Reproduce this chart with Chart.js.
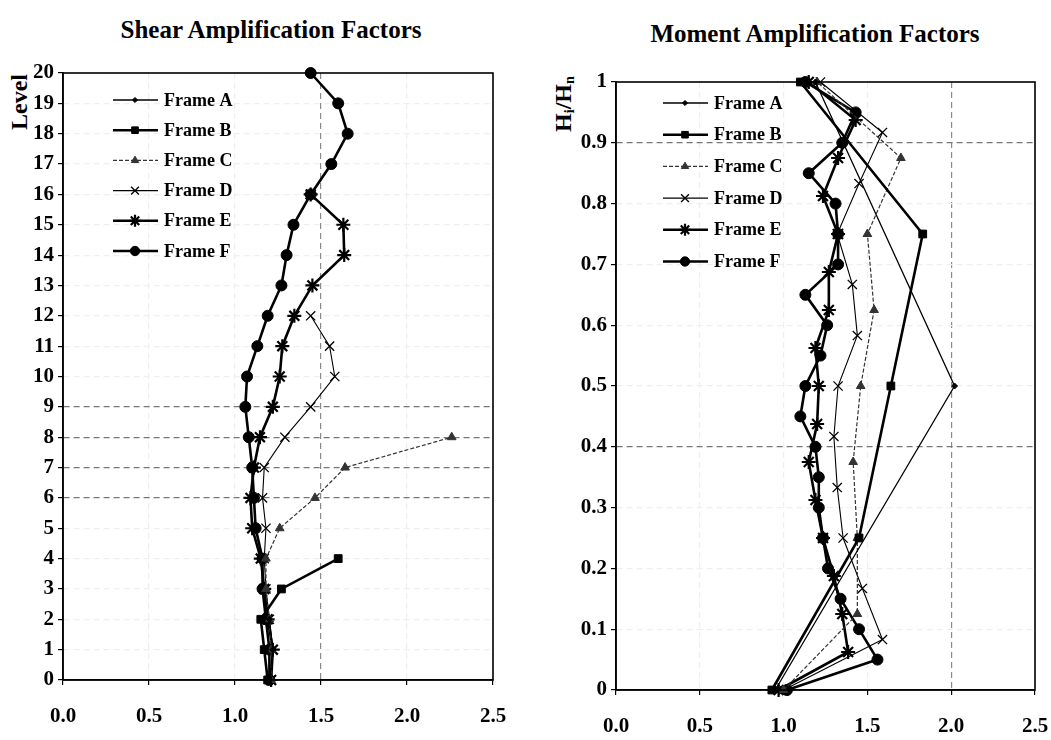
<!DOCTYPE html>
<html>
<head>
<meta charset="utf-8">
<script src="https://cdn.jsdelivr.net/npm/chart.js@4.4.0/dist/chart.umd.min.js"></script>
<style>
  body { margin: 0; background: #fff; width: 1051px; height: 740px; position: relative; overflow: hidden; }
  .box { position: absolute; top: 0; height: 740px; }
  .txt { position: absolute; font-family: "Liberation Serif", "Times New Roman", serif; font-weight: bold; color: #000; white-space: nowrap; }
  .title { font-size: 25px; transform: translateX(-50%); }
  .ylab { font-size: 24px; transform: translate(-50%, -50%) rotate(-90deg); }
  sub { font-size: 60%; vertical-align: -0.25em; }
</style>
</head>
<body>
<div class="txt title" style="left:271px; top:16px;">Shear Amplification Factors</div>
<div class="txt title" style="left:815px; top:20px;">Moment Amplification Factors</div>
<div class="txt ylab" style="left:19px; top:102px;">Level</div>
<div class="txt ylab" style="left:564px; top:104px;">H<sub>i</sub>/H<sub>n</sub></div>
<div class="box" style="left:0; width:525px;"><canvas id="shear" width="525" height="740"></canvas></div>
<div class="box" style="left:525px; width:526px;"><canvas id="moment" width="526" height="740"></canvas></div>
<script>
// series names
var frames = ['Frame A', 'Frame B', 'Frame C', 'Frame D', 'Frame E', 'Frame F'];

// shear: value per level (level = position in levels)
var levels = [0, 1, 2, 3, 4, 5, 6, 7, 8, 9, 10, 11, 12, 13, 14, 15, 16, 17, 18, 19, 20];
var shearA = [1.20, 1.22, 1.20];
var shearB = [1.19, 1.17, 1.15, 1.27, 1.60];
var shearC = [1.21, 1.21, 1.20, 1.18, 1.18, 1.26, 1.465, 1.64, 2.26];
var shearD = [1.21, 1.22, 1.20, 1.18, 1.17, 1.18, 1.16, 1.17, 1.29, 1.44, 1.58, 1.55, 1.44];
var shearE = [1.21, 1.22, 1.19, 1.17, 1.15, 1.10, 1.09, 1.11, 1.145, 1.22, 1.26, 1.275, 1.345, 1.45, 1.635, 1.63, 1.44];
var shearF = [1.20, 1.20, 1.18, 1.16, 1.16, 1.12, 1.11, 1.10, 1.08, 1.06, 1.07, 1.13, 1.19, 1.27, 1.30, 1.34, 1.44, 1.56, 1.655, 1.60, 1.44];

// moment: Hi/Hn heights and factors
var ratioA = [0, 0.5, 1];
var ratioB = [0, 0.25, 0.5, 0.75, 1];
var ratioC = [0, 0.125, 0.25, 0.375, 0.5, 0.625, 0.75, 0.875, 1];
var ratioD = [0, 0.083, 0.167, 0.25, 0.333, 0.417, 0.5, 0.583, 0.667, 0.75, 0.833, 0.917, 1];
var ratioE = [0, 0.0625, 0.125, 0.1875, 0.25, 0.3125, 0.375, 0.4375, 0.5, 0.5625, 0.625, 0.6875, 0.75, 0.8125, 0.875, 0.9375, 1];
var ratioF = [0, 0.05, 0.1, 0.15, 0.2, 0.25, 0.3, 0.35, 0.4, 0.45, 0.5, 0.55, 0.6, 0.65, 0.7, 0.75, 0.8, 0.85, 0.9, 0.95, 1];
var momA = [0.95, 2.02, 1.19];
var momB = [0.93, 1.45, 1.64, 1.83, 1.10];
var momC = [1.00, 1.44, 1.44, 1.415, 1.46, 1.54, 1.50, 1.70, 1.20];
var momD = [1.00, 1.59, 1.47, 1.355, 1.32, 1.30, 1.325, 1.44, 1.41, 1.32, 1.45, 1.59, 1.22];
var momE = [0.97, 1.385, 1.35, 1.30, 1.235, 1.19, 1.15, 1.20, 1.21, 1.19, 1.27, 1.27, 1.325, 1.235, 1.325, 1.43, 1.15];
var momF = [1.02, 1.56, 1.45, 1.34, 1.265, 1.235, 1.21, 1.21, 1.19, 1.10, 1.13, 1.22, 1.26, 1.13, 1.325, 1.325, 1.31, 1.15, 1.35, 1.43, 1.13];

var xTicks = ['0.0', '0.5', '1.0', '1.5', '2.0', '2.5'];

var serif = '"Liberation Serif", "Times New Roman", serif';

var looks = [
    {borderWidth: 1.3, pointStyle: 'rectRot', pointRadius: 3, pointBorderWidth: 1, borderDash: []},
    {borderWidth: 2.6, pointStyle: 'rect', pointRadius: 5.5, pointBorderWidth: 1, borderDash: []},
    {borderWidth: 1.2, pointStyle: 'triangle', pointRadius: 5, pointBorderWidth: 1, borderDash: [4, 2], color: '#333'},
    {borderWidth: 1.1, pointStyle: 'crossRot', pointRadius: 6.5, pointBorderWidth: 1.3, borderDash: []},
    {borderWidth: 2.6, pointStyle: 'star', pointRadius: 7, pointBorderWidth: 2.2, borderDash: []},
    {borderWidth: 2.6, pointStyle: 'circle', pointRadius: 5.5, pointBorderWidth: 1, borderDash: []}
];

function makeSets(xs, ys) {
    return xs.map(function (vals, k) {
        var lk = looks[k];
        var col = lk.color || '#000';
        return {
            label: frames[k],
            data: vals.map(function (v, i) { return {x: v, y: ys[k][i]}; }),
            showLine: true,
            borderColor: col,
            borderWidth: lk.borderWidth,
            borderDash: lk.borderDash,
            pointStyle: lk.pointStyle,
            pointRadius: lk.pointRadius,
            pointBorderWidth: lk.pointBorderWidth,
            pointBackgroundColor: col,
            pointBorderColor: col,
            clip: false
        };
    });
}

// frame box + in-plot legend
var boxLegend = {
    id: 'boxLegend',
    afterDatasetsDraw: function (chart, args, opts) {
        var ctx = chart.ctx, a = chart.chartArea;
        ctx.save();
        ctx.strokeStyle = '#000';
        ctx.lineWidth = 1.6;
        ctx.strokeRect(a.left, a.top, a.right - a.left, a.bottom - a.top);
        ctx.font = 'bold 18px ' + serif;
        ctx.textBaseline = 'middle';
        chart.data.datasets.forEach(function (ds, i) {
            var y = a.top + opts.top + i * opts.gap;
            var x0 = a.left + opts.left;
            ctx.strokeStyle = ds.borderColor;
            ctx.lineWidth = ds.borderWidth;
            ctx.setLineDash(ds.borderDash);
            ctx.beginPath();
            ctx.moveTo(x0, y);
            ctx.lineTo(x0 + 45, y);
            ctx.stroke();
            ctx.setLineDash([]);
            ctx.fillStyle = ds.pointBackgroundColor;
            ctx.strokeStyle = ds.pointBorderColor;
            ctx.lineWidth = ds.pointBorderWidth;
            Chart.helpers.drawPoint(ctx, {pointStyle: ds.pointStyle, radius: ds.pointRadius * 0.85, rotation: 0, borderWidth: ds.pointBorderWidth}, x0 + 22, y);
            ctx.fillStyle = '#000';
            ctx.fillText(ds.label, x0 + 51, y + 1);
        });
        ctx.restore();
    }
};

function near(v, list) {
    return list.some(function (t) { return Math.abs(v - t) < 1e-6; });
}

function makeChart(id, datasets, o) {
    return new Chart(document.getElementById(id), {
        type: 'scatter',
        data: {datasets: datasets},
        plugins: [boxLegend],
        options: {
            responsive: false,
            animation: false,
            layout: {padding: {top: o.top, right: o.right, bottom: 0, left: 0}},
            plugins: {
                legend: {display: false},
                tooltip: {enabled: false},
                boxLegend: {top: o.legTop, gap: o.legGap, left: o.legLeft}
            },
            scales: {
                x: {
                    type: 'linear', min: 0, max: 2.5,
                    afterFit: function (s) { s.height = o.xh; s.paddingLeft = 0; s.paddingRight = 0; },
                    ticks: {
                        stepSize: 0.5, padding: 19, color: '#000',
                        font: {family: serif, size: 21, weight: 'bold'},
                        callback: function (v) { return xTicks[Math.round(v * 2)]; }
                    },
                    grid: {
                        color: function (c) { return c.tick && near(c.tick.value, o.darkX) ? '#8a8a8a' : '#efefef'; },
                        lineWidth: 1.2, tickLength: 5, tickColor: '#000', tickBorderDash: []
                    },
                    border: {color: '#000', width: 1.6, dash: [6, 4]}
                },
                y: {
                    type: 'linear', min: 0, max: o.ymax,
                    afterFit: function (s) { s.width = o.yw; },
                    ticks: {
                        stepSize: o.ystep, padding: 4, color: '#000',
                        font: {family: serif, size: 21, weight: 'bold'},
                        callback: o.yfmt
                    },
                    grid: {
                        color: function (c) { return c.tick && near(c.tick.value, o.darkY) ? '#777' : '#efefef'; },
                        lineWidth: 1.2, tickLength: 5, tickColor: '#000', tickBorderDash: []
                    },
                    border: {color: '#000', width: 1.6, dash: [6, 4]}
                }
            }
        }
    });
}

var shearSets = makeSets([shearA, shearB, shearC, shearD, shearE, shearF],
    [levels, levels, levels, levels, levels, levels]);
var momentSets = makeSets([momA, momB, momC, momD, momE, momF],
    [ratioA, ratioB, ratioC, ratioD, ratioE, ratioF]);

makeChart('shear', shearSets, {
    top: 73, right: 32, xh: 60, yw: 63, ymax: 20, ystep: 1,
    yfmt: function (v) { return String(v); },
    darkX: [1.5], darkY: [6, 7, 8, 9],
    legTop: 27, legGap: 30.2, legLeft: 50
});

makeChart('moment', momentSets, {
    top: 82, right: 16, xh: 50, yw: 91, ymax: 1, ystep: 0.1,
    yfmt: function (v) { return String(+v.toFixed(1)); },
    darkX: [2.0], darkY: [0.9, 0.4],
    legTop: 21, legGap: 31.7, legLeft: 47
});
</script>
</body>
</html>
